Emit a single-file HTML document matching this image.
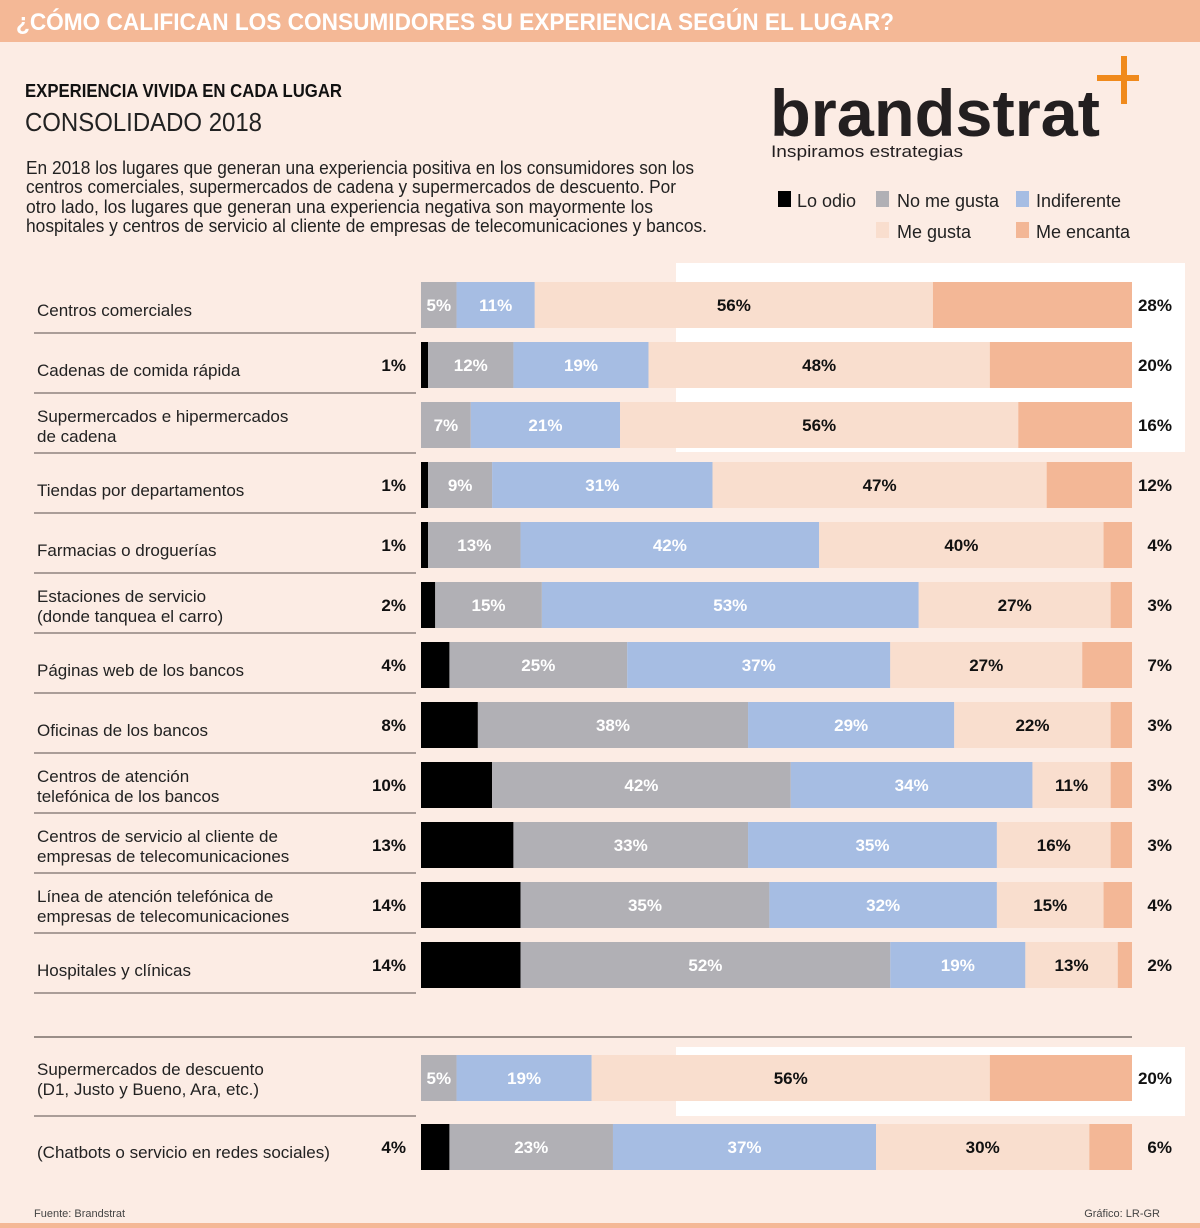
<!DOCTYPE html>
<html><head><meta charset="utf-8"><style>
body{margin:0;background:#fcece4;}
svg{display:block;font-family:"Liberation Sans",sans-serif;}
</style></head><body>
<svg id="chart" width="1200" height="1228" viewBox="0 0 1200 1228" xmlns="http://www.w3.org/2000/svg">
<rect x="0" y="0" width="1200" height="1228" fill="#fcece4"/>
<rect x="0" y="0" width="1200" height="42" fill="#f4b896"/>
<text x="16" y="30" fill="#fff" font-weight="bold" font-size="24" textLength="878" lengthAdjust="spacingAndGlyphs">¿CÓMO CALIFICAN LOS CONSUMIDORES SU EXPERIENCIA SEGÚN EL LUGAR?</text>
<text x="25" y="97" font-weight="bold" font-size="18" textLength="317" lengthAdjust="spacingAndGlyphs" fill="#111">EXPERIENCIA VIVIDA EN CADA LUGAR</text>
<text x="25" y="131" font-size="26" textLength="237" lengthAdjust="spacingAndGlyphs" fill="#222">CONSOLIDADO 2018</text>
<g font-size="18" fill="#222">
<text x="26" y="174" textLength="668" lengthAdjust="spacingAndGlyphs">En 2018 los lugares que generan una experiencia positiva en los consumidores son los</text>
<text x="26" y="193" textLength="650" lengthAdjust="spacingAndGlyphs">centros comerciales, supermercados de cadena y supermercados de descuento. Por</text>
<text x="26" y="213" textLength="627" lengthAdjust="spacingAndGlyphs">otro lado, los lugares que generan una experiencia negativa son mayormente los</text>
<text x="26" y="232" textLength="681" lengthAdjust="spacingAndGlyphs">hospitales y centros de servicio al cliente de empresas de telecomunicaciones y bancos.</text>
</g>
<g>
<text x="770" y="136" font-size="66" font-weight="bold" fill="#231f20" textLength="330" lengthAdjust="spacingAndGlyphs">brandstrat</text>
<rect x="1121" y="56" width="6" height="48" fill="#f08a1c"/>
<rect x="1097" y="75" width="42" height="6" fill="#f08a1c"/>
<text x="771" y="157" font-size="17" fill="#231f20" textLength="192" lengthAdjust="spacingAndGlyphs">Inspiramos estrategias</text>
</g>
<g font-size="18" fill="#222">
<rect x="778" y="191" width="13" height="16" fill="#000"/>
<text x="797" y="207">Lo odio</text>
<rect x="876" y="191" width="13" height="16" fill="#b1b0b5"/>
<text x="897" y="207">No me gusta</text>
<rect x="1016" y="191" width="13" height="16" fill="#a6bde3"/>
<text x="1036" y="207">Indiferente</text>
<rect x="876" y="222" width="13" height="16" fill="#f9dece"/>
<text x="897" y="238">Me gusta</text>
<rect x="1016" y="222" width="13" height="16" fill="#f3b796"/>
<text x="1036" y="238">Me encanta</text>
</g>
<rect x="676" y="263" width="509" height="189" fill="#fff"/>
<rect x="676" y="1047" width="509" height="69" fill="#fff"/>
<line x1="34" y1="1037" x2="1132" y2="1037" stroke="#7a6e6a" stroke-width="1.5"/>
<g id="bars"></g>
<text x="34" y="1217" font-size="11" fill="#444">Fuente: Brandstrat</text>
<text x="1160" y="1217" font-size="11" fill="#444" text-anchor="end">Gráfico: LR-GR</text>
<rect x="0" y="1223" width="1200" height="5" fill="#f4b896"/>
</svg>
<script>
const categories = [
 ["Centros comerciales"],
 ["Cadenas de comida rápida"],
 ["Supermercados e hipermercados","de cadena"],
 ["Tiendas por departamentos"],
 ["Farmacias o droguerías"],
 ["Estaciones de servicio","(donde tanquea el carro)"],
 ["Páginas web de los bancos"],
 ["Oficinas de los bancos"],
 ["Centros de atención","telefónica de los bancos"],
 ["Centros de servicio al cliente de","empresas de telecomunicaciones"],
 ["Línea de atención telefónica de","empresas de telecomunicaciones"],
 ["Hospitales y clínicas"],
 ["Supermercados de descuento","(D1, Justo y Bueno, Ara, etc.)"],
 ["(Chatbots o servicio en redes sociales)"]
];
const loOdio     = [0,1,0,1,1,2,4,8,10,13,14,14,0,4];
const noMeGusta  = [5,12,7,9,13,15,25,38,42,33,35,52,5,23];
const indiferente= [11,19,21,31,42,53,37,29,34,35,32,19,19,37];
const meGusta    = [56,48,56,47,40,27,27,22,11,16,15,13,56,30];
const meEncanta  = [28,20,16,12,4,3,7,3,3,3,4,2,20,6];

const NS="http://www.w3.org/2000/svg";
const g=document.getElementById('bars');
const X0=421, X1=1132;
const rowTop=i=> i<12 ? 282+i*60 : (i===12?1055:1124);
const BH=46;
function el(tag,attrs){const e=document.createElementNS(NS,tag);for(const k in attrs)e.setAttribute(k,attrs[k]);return e;}
const series=[loOdio,noMeGusta,indiferente,meGusta,meEncanta];
const colors=["#000","#b1b0b5","#a6bde3","#f9dece","#f3b796"];
const snames=["lo-odio","no-me-gusta","indiferente","me-gusta","me-encanta"];
categories.forEach((lab,i)=>{
  const y=rowTop(i);
  const total=series.reduce((s,a)=>s+a[i],0);
  const sx=v=>v/total*(X1-X0);
  let x=X0;
  series.forEach((arr,s)=>{
    const v=arr[i];
    if(v<=0) return;
    const w=sx(v);
    const r=el('rect',{x:x,y:y,width:w,height:BH,fill:colors[s]});
    
    
    g.appendChild(r);
    if(s>=1 && s<=3){
      const t=el('text',{x:x+w/2,y:y+BH/2+6,'text-anchor':'middle','font-size':17,'font-weight':'bold',fill:s===3?'#111':'#fff'});
      t.textContent=v+'%';
      
      
      g.appendChild(t);
    }
    x+=w;
  });
  if(loOdio[i]>0){
    const t=el('text',{x:406,y:y+BH/2+6,'text-anchor':'end','font-size':17,'font-weight':'bold',fill:'#111'});
    t.textContent=loOdio[i]+'%';
    
    
    g.appendChild(t);
  }
  const t2=el('text',{x:1172,y:y+BH/2+6,'text-anchor':'end','font-size':17,'font-weight':'bold',fill:'#111'});
  t2.textContent=meEncanta[i]+'%';
  
  
  g.appendChild(t2);
  const baseY = lab.length===1 ? y+34 : y+31;
  lab.forEach((line,k)=>{
    const t=el('text',{x:37,y:(lab.length===1?baseY:y+20+k*20),'font-size':17,fill:'#222'});
    t.textContent=line;
    
    
    g.appendChild(t);
  });
  if(i!==13){
    const ly = i<12 ? y+51 : 1116;
    const ln=el('line',{x1:34,y1:ly,x2:416,y2:ly,stroke:'#7a6e6a','stroke-width':1.2});
    
    
    g.appendChild(ln);
  }
});
</script>
</body></html>
